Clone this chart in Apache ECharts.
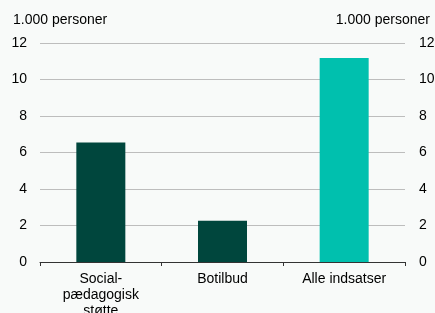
<!DOCTYPE html>
<html>
<head>
<meta charset="utf-8">
<script src="https://cdn.jsdelivr.net/npm/echarts@6/dist/echarts.min.js"></script>
<style>
  html, body { margin: 0; padding: 0; background: #f8faf9; }
  #chart { width: 435px; height: 313px; }
</style>
</head>
<body>
<div id="chart"></div>
<script>
// data
var categories = ['Social-\npædagogisk\nstøtte', 'Botilbud', 'Alle indsatser']
var values = [6.55, 2.26, 11.18]
var barColors = ['#00463d', '#00463d', '#00c0ae']
var unitLabel = '1.000 personer'

var font = 'Liberation Sans, Arial, sans-serif'

var myChart = echarts.init(document.getElementById('chart'), null, { renderer: 'canvas' })

var option = {
  backgroundColor: '#f8faf9',
  animation: false,
  title: [
    {
      text: unitLabel,
      left: 13,
      top: 13,
      padding: 0,
      textStyle: { fontFamily: font, fontSize: 14, fontWeight: 'normal', color: '#000' }
    },
    {
      text: unitLabel,
      right: 5,
      top: 13,
      padding: 0,
      textStyle: { fontFamily: font, fontSize: 14, fontWeight: 'normal', color: '#000' }
    }
  ],
  grid: {
    left: 40,
    right: 30,
    top: 43,
    bottom: 51,
    containLabel: false,
    outerBoundsMode: 'none'
  },
  xAxis: {
    type: 'category',
    data: categories,
    axisLine: { show: true, lineStyle: { color: '#333', width: 1 } },
    axisTick: { show: true, alignWithLabel: false, length: 4, lineStyle: { color: '#333' } },
    axisLabel: {
      interval: 0,
      margin: 9,
      fontFamily: font,
      fontSize: 14,
      color: '#000',
      lineHeight: 16
    }
  },
  yAxis: [
    {
      type: 'value',
      min: 0,
      max: 12,
      interval: 2,
      axisLine: { show: false },
      axisTick: { show: false },
      splitLine: { lineStyle: { color: '#bdbdbd', width: 1 } },
      axisLabel: { margin: 13, fontFamily: font, fontSize: 14, color: '#000' }
    },
    {
      type: 'value',
      min: 0,
      max: 12,
      interval: 2,
      position: 'right',
      axisLine: { show: false },
      axisTick: { show: false },
      splitLine: { show: false },
      axisLabel: { margin: 14, fontFamily: font, fontSize: 14, color: '#000' }
    }
  ],
  series: [
    {
      type: 'bar',
      yAxisIndex: 0,
      barWidth: 49,
      data: values.map(function (v, i) {
        return { value: v, itemStyle: { color: barColors[i] } }
      })
    }
  ]
}

myChart.setOption(option)
</script>
</body>
</html>
